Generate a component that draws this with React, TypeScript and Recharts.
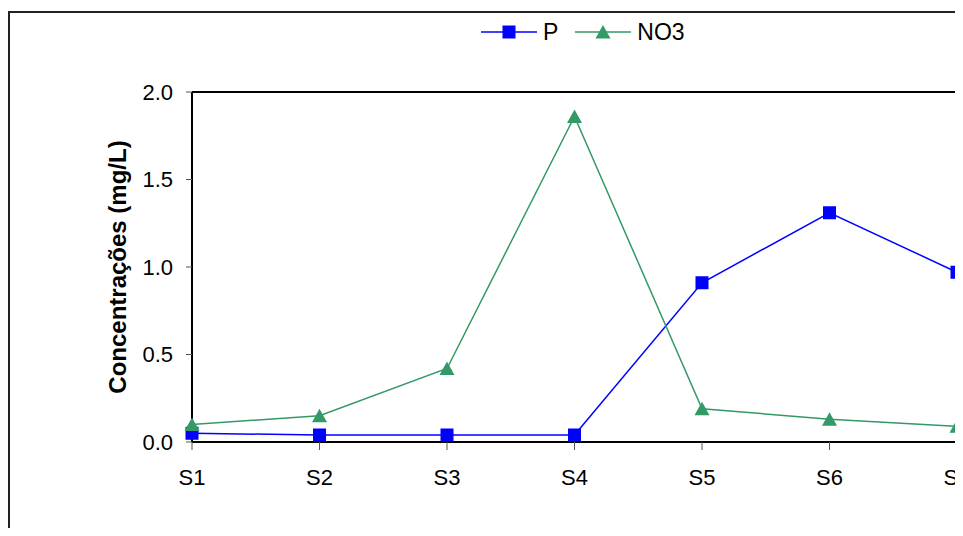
import {
  LineChart,
  Line,
  XAxis,
  YAxis,
  Legend,
  ReferenceLine,
} from "recharts";

const SITES = ["S1", "S2", "S3", "S4", "S5", "S6", "S7"];
const P_VALUES = [0.05, 0.04, 0.04, 0.04, 0.91, 1.31, 0.97];
const NO3_VALUES = [0.1, 0.15, 0.42, 1.86, 0.19, 0.13, 0.09];
const Y_TICKS = [0, 0.5, 1, 1.5, 2];

const BLUE = "#0000ff";
const GREEN = "#339966";
const FONT = '"Liberation Sans", Arial, sans-serif';

const data = SITES.map((s, i) => ({ site: s, P: P_VALUES[i], NO3: NO3_VALUES[i] }));

function SquareDot(props: any) {
  const { cx, cy, index } = props;
  if (cx == null || cy == null) return null;
  return <rect key={`p-${index}`} x={cx - 6.5} y={cy - 6.5} width={13} height={13} fill={BLUE} />;
}

function TriangleDot(props: any) {
  const { cx, cy, index } = props;
  if (cx == null || cy == null) return null;
  return (
    <polygon
      key={`n-${index}`}
      points={`${cx},${cy - 7} ${cx + 7.5},${cy + 6.5} ${cx - 7.5},${cy + 6.5}`}
      fill={GREEN}
    />
  );
}

function LegendContent() {
  const item = (name: string, color: string, marker: "square" | "triangle", gap: number) => (
    <div style={{ display: "flex", alignItems: "center", marginLeft: gap }}>
      <svg width={56} height={20}>
        <line x1={0} y1={10} x2={56} y2={10} stroke={color} strokeWidth={1.5} />
        {marker === "square" ? (
          <rect x={21.5} y={3.5} width={13} height={13} fill={color} />
        ) : (
          <polygon points="28,3 35.5,16.5 20.5,16.5" fill={color} />
        )}
      </svg>
      <span style={{ marginLeft: 6, fontSize: 23, color: "#000" }}>{name}</span>
    </div>
  );
  return (
    <div style={{ display: "flex", alignItems: "center", fontFamily: FONT, lineHeight: "26px" }}>
      {item("P", BLUE, "square", 0)}
      {item("NO3", GREEN, "triangle", 17)}
    </div>
  );
}

export default function App() {
  return (
    <div
      style={{
        position: "relative",
        top: 3,
        width: 953,
        height: 530,
        marginBottom: -12,
        borderLeft: "2px solid #222",
        borderTop: "2px solid #222",
        overflow: "hidden",
        background: "#fff",
      }}
    >
      <LineChart
        width={953}
        height={530}
        data={data}
        margin={{ top: 79, right: 6, bottom: 61, left: 95 }}
        style={{ fontFamily: FONT }}
      >
        <ReferenceLine y={2} stroke="#000" strokeWidth={2} />
        <ReferenceLine x="S7" stroke="#000" strokeWidth={2} />
        <XAxis
          dataKey="site"
          height={40}
          axisLine={{ stroke: "#000", strokeWidth: 2 }}
          tickLine={{ stroke: "#555" }}
          tickSize={8}
          tickMargin={19}
          tick={{ fontSize: 22, fill: "#000" }}
          interval={0}
        />
        <YAxis
          width={87}
          domain={[0, 2]}
          ticks={Y_TICKS}
          tickFormatter={(v: number) => v.toFixed(1)}
          axisLine={{ stroke: "#000", strokeWidth: 2 }}
          tickLine={{ stroke: "#555" }}
          tickSize={6}
          tickMargin={13}
          tick={{ fontSize: 22, fill: "#000" }}
          label={{
            value: "Concentrações (mg/L)",
            angle: -90,
            position: "insideLeft",
            offset: 12,
            style: { textAnchor: "middle", fontWeight: "bold", fontSize: 24, fill: "#000" },
          }}
        />
        <Legend
          verticalAlign="middle"
          align="center"
          layout="horizontal"
          content={() => <LegendContent />}
          wrapperStyle={{ top: 6, left: 471, width: "auto", height: 26 }}
        />
        <Line
          dataKey="P"
          stroke={BLUE}
          strokeWidth={1.5}
          dot={SquareDot}
          activeDot={false}
          isAnimationActive={false}
        />
        <Line
          dataKey="NO3"
          stroke={GREEN}
          strokeWidth={1.5}
          dot={TriangleDot}
          activeDot={false}
          isAnimationActive={false}
        />
      </LineChart>
    </div>
  );
}
